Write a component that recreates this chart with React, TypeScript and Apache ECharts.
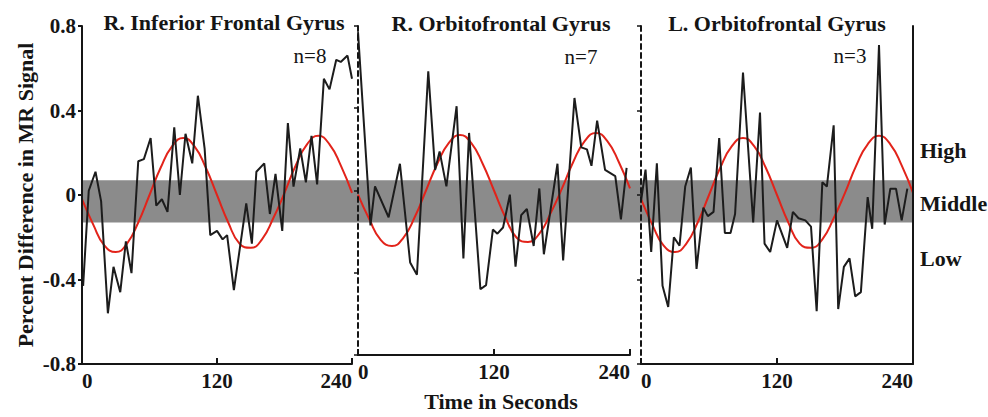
import { useEffect, useRef } from "react";
import * as echarts from "echarts";

// ---------- data ----------
const panelTitles = ["R. Inferior Frontal Gyrus", "R. Orbitofrontal Gyrus", "L. Orbitofrontal Gyrus"];
const panelCounts = ["n=8", "n=7", "n=3"];
const levelLabels = ["High", "Middle", "Low"];
const yAxisTitle = "Percent Difference in MR Signal";
const xAxisTitle = "Time in Seconds";

// grey "Middle" band (percent signal change)
const bandRange = [-0.13, 0.07];

// red reference wave (time s, value)
const modelWave: [number, number][] = [
  [0, -0.02], [10, -0.14], [20, -0.24], [30, -0.27], [40, -0.23], [50, -0.13],
  [60, 0.0], [70, 0.13], [80, 0.23], [90, 0.27], [100, 0.23], [110, 0.13],
  [120, 0.0], [130, -0.13], [140, -0.23], [150, -0.25], [160, -0.21], [170, -0.11],
  [180, 0.01], [190, 0.14], [200, 0.24], [210, 0.28], [220, 0.24], [230, 0.14], [240, 0.01],
];

// R. Inferior Frontal Gyrus (n=8)
const rifgSignal: [number, number][] = [
  [1, -0.43], [6, 0.02], [12, 0.11], [17, -0.03], [23, -0.56], [28, -0.34], [34, -0.46],
  [39, -0.22], [44, -0.37], [50, 0.16], [55, 0.17], [61, 0.27], [66, -0.05], [71, -0.02],
  [76, -0.08], [82, 0.32], [87, 0.0], [92, 0.29], [98, 0.15], [103, 0.47], [109, 0.22],
  [114, -0.19], [120, -0.17], [125, -0.21], [129, -0.19], [135, -0.45], [146, -0.04],
  [151, -0.23], [155, 0.11], [162, 0.15], [167, -0.09], [172, 0.1], [178, -0.17],
  [183, 0.34], [188, 0.04], [194, 0.22], [199, 0.06], [204, 0.28], [209, 0.05],
  [215, 0.55], [220, 0.5], [226, 0.64], [230, 0.63], [236, 0.66], [240, 0.55],
];

// R. Orbitofrontal Gyrus (n=7)
const rofgSignal: [number, number][] = [
  [0, 0.77], [11, -0.17], [15, 0.02], [27, -0.13], [37, 0.13], [46, -0.35], [52, -0.41],
  [62, 0.58], [68, 0.1], [72, 0.19], [78, 0.02], [87, 0.41], [93, -0.33], [98, 0.28],
  [108, -0.48], [113, -0.46], [119, -0.19], [123, -0.21], [128, -0.18], [134, -0.02],
  [139, -0.37], [144, -0.12], [149, -0.09], [155, -0.27], [160, 0.01], [164, -0.31],
  [176, 0.13], [181, -0.34], [191, 0.45], [197, 0.21], [202, 0.2], [206, 0.12],
  [211, 0.34], [218, 0.1], [227, 0.07], [232, -0.14], [237, 0.11],
];

// L. Orbitofrontal Gyrus (n=3)
const lofgSignal: [number, number][] = [
  [0, -0.03], [4, 0.12], [9, -0.27], [14, 0.15], [19, -0.43], [24, -0.53], [29, -0.2],
  [34, -0.24], [39, 0.04], [44, 0.13], [49, -0.35], [55, -0.06], [59, -0.1], [64, -0.08],
  [69, 0.27], [74, -0.18], [79, -0.18], [83, -0.09], [90, 0.58], [99, -0.13], [105, 0.39],
  [109, -0.23], [114, -0.27], [120, -0.12], [129, -0.25], [134, -0.08], [139, -0.11],
  [145, -0.12], [150, -0.15], [155, -0.55], [160, 0.06], [164, 0.04], [170, 0.33],
  [174, -0.54], [179, -0.34], [184, -0.3], [189, -0.48], [194, -0.46], [200, -0.01],
  [204, -0.16], [210, 0.71], [215, -0.14], [220, 0.03], [225, 0.03], [230, -0.12], [235, 0.03],
];

const panelSignals = [rifgSignal, rofgSignal, lofgSignal];

// ---------- layout / style ----------
const FONT = "'Liberation Serif', 'Times New Roman', serif";
const INK = "#151515";
const TOP = 26;
const HEIGHT = 338;
const panelBoxes = [
  { left: 82, width: 270 },
  { left: 358, width: 272 },
  { left: 641, width: 272 },
];
const titlePos = [[224, 22], [501, 23], [777, 23]];
const countPos = [[310, 56], [581, 57], [850, 56]];
const levelPos = [150, 203, 258];

function buildOption() {
  const boldText = { color: INK, fontFamily: FONT, fontWeight: "bold" as const, fontSize: 21 };
  const grid = [
    { left: 82, top: TOP, width: 831, height: HEIGHT },
    ...panelBoxes.map((b) => ({ left: b.left, top: TOP, width: b.width, height: HEIGHT })),
  ];
  const xAxis: any[] = [
    { gridIndex: 0, type: "value", min: 0, max: 1, show: false },
    ...panelBoxes.map((_, i) => ({
      gridIndex: i + 1,
      type: "value",
      min: 0,
      max: 240,
      interval: 120,
      z: 10,
      axisLine: { onZero: false, lineStyle: { color: INK, width: 2 } },
      axisTick: { inside: true, length: 6, lineStyle: { color: INK, width: 2 } },
      axisLabel: { ...boldText, margin: 6, alignMinLabel: "left", alignMaxLabel: "right" },
      splitLine: { show: false },
      ...(i === 1
        ? {
            name: xAxisTitle,
            nameLocation: "middle",
            nameGap: 35,
            nameTextStyle: { ...boldText, fontSize: 22, padding: [0, 0, 0, 14] },
          }
        : {}),
    })),
  ];
  const yBase = { type: "value", min: -0.8, max: 0.8, interval: 0.4, z: 10, splitLine: { show: false } };
  const yAxis: any[] = [
    { gridIndex: 0, type: "value", min: -0.8, max: 0.8, show: false },
    {
      ...yBase,
      gridIndex: 1,
      axisLine: { show: true, lineStyle: { color: INK, width: 2 } },
      axisTick: { show: true, length: 4, lineStyle: { color: INK, width: 2 } },
      axisLabel: {
        ...boldText,
        margin: 6,
        formatter: (v: number) => String(Math.round(v * 10) / 10),
      },
      name: yAxisTitle,
      nameLocation: "middle",
      nameRotate: 90,
      nameGap: 46,
      nameTextStyle: { ...boldText, fontSize: 22 },
    },
    ...[2, 3].map((g) => ({
      ...yBase,
      gridIndex: g,
      axisLine: { show: true, lineStyle: { color: INK, width: 2, type: [5, 4] } },
      axisTick: { show: true, length: 4, lineStyle: { color: INK, width: 1.5 } },
      axisLabel: { show: false },
    })),
    {
      ...yBase,
      gridIndex: 3,
      position: "right",
      axisLine: { show: true, lineStyle: { color: INK, width: 2 } },
      axisTick: { show: false },
      axisLabel: { show: false },
    },
  ];

  const series: any[] = [
    {
      type: "line",
      xAxisIndex: 0,
      yAxisIndex: 0,
      data: [[0, bandRange[0]], [1, bandRange[0]]],
      symbol: "none",
      lineStyle: { opacity: 0 },
      silent: true,
      z: 1,
      markArea: {
        silent: true,
        itemStyle: { color: "#8b8b8b" },
        data: [[{ xAxis: 0, yAxis: bandRange[0] }, { xAxis: 1, yAxis: bandRange[1] }]],
      },
    },
  ];
  panelSignals.forEach((sig, i) => {
    series.push({
      type: "line",
      xAxisIndex: i + 1,
      yAxisIndex: i + 1,
      data: modelWave,
      smooth: true,
      symbol: "none",
      lineStyle: { color: "#e2231a", width: 2 },
      z: 3,
    });
    series.push({
      type: "line",
      xAxisIndex: i + 1,
      yAxisIndex: i + 1,
      data: sig,
      symbol: "none",
      lineStyle: { color: "#1c1c1c", width: 2 },
      z: 4,
    });
  });

  const graphic: any[] = [
    ...panelTitles.map((t, i) => ({
      type: "text",
      x: titlePos[i][0],
      y: titlePos[i][1],
      style: {
        text: t,
        fill: INK,
        font: `bold 22px ${FONT}`,
        textAlign: "center",
        textVerticalAlign: "middle",
      },
    })),
    ...panelCounts.map((t, i) => ({
      type: "text",
      x: countPos[i][0],
      y: countPos[i][1],
      style: {
        text: t,
        fill: INK,
        font: `21px ${FONT}`,
        textAlign: "center",
        textVerticalAlign: "middle",
      },
    })),
    ...levelLabels.map((t, i) => ({
      type: "text",
      x: 920,
      y: levelPos[i],
      style: {
        text: t,
        fill: INK,
        font: `bold 22px ${FONT}`,
        textAlign: "left",
        textVerticalAlign: "middle",
      },
    })),
  ];

  return {
    animation: false,
    backgroundColor: "#ffffff",
    grid,
    xAxis,
    yAxis,
    series,
    graphic,
  };
}

export default function App() {
  const ref = useRef<HTMLDivElement>(null);
  useEffect(() => {
    if (!ref.current) return;
    const chart = echarts.init(ref.current, undefined, { renderer: "svg" });
    chart.setOption(buildOption());
    return () => chart.dispose();
  }, []);
  return (
    <div
      ref={ref}
      style={{ position: "fixed", left: 0, top: 0, width: 988, height: 417 }}
    />
  );
}
